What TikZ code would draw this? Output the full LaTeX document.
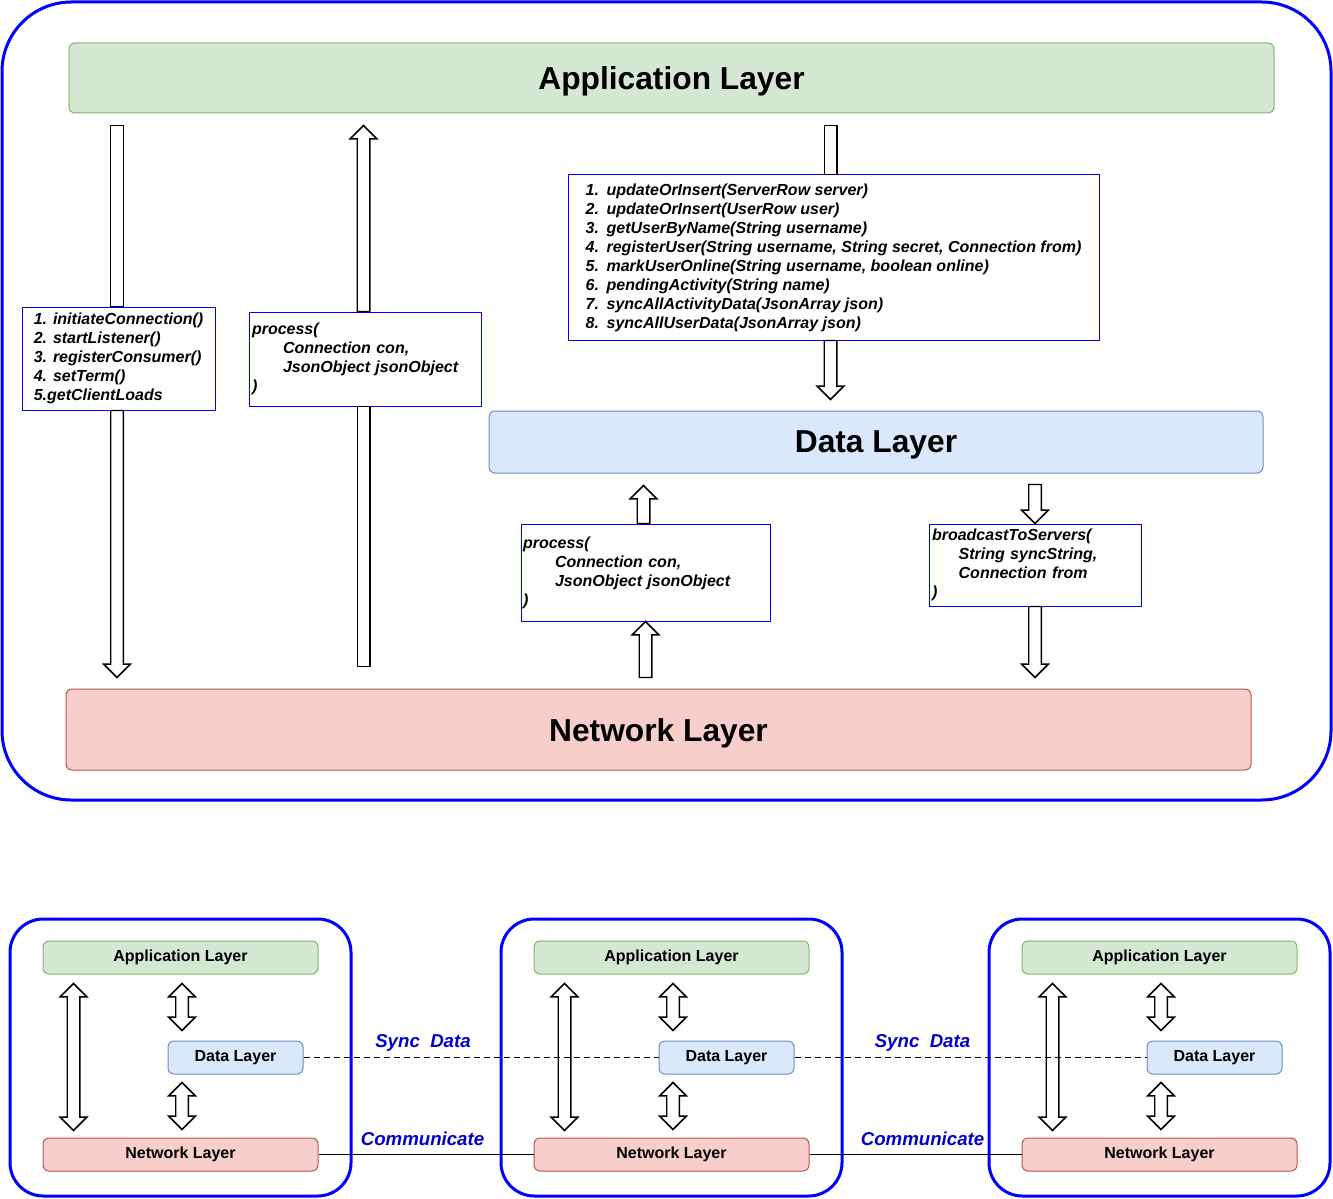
\documentclass[tikz,border=0pt]{standalone}
\usepackage{fontspec}
\setmainfont{Liberation Sans}
\usetikzlibrary{calc}
\definecolor{appfill}{HTML}{D5E8D4}
\definecolor{appline}{HTML}{82B366}
\definecolor{datafill}{HTML}{DAE8FC}
\definecolor{dataline}{HTML}{6C8EBF}
\definecolor{netfill}{HTML}{F8CECC}
\definecolor{netline}{HTML}{B85450}
\definecolor{frameblue}{HTML}{0000FF}
\definecolor{linkblue}{HTML}{0000CC}
\def\pxu{0.75pt}
\def\shafthalf{4.7pt}
\def\headhalf{10pt}
\def\headlen{10pt}
% hollow block arrow, head at the second point
\def\fatarrow[#1]#2#3{%
  \path #2 coordinate (fa-s) #3 coordinate (fa-e);
  \path ($(fa-e)!\headlen!(fa-s)$) coordinate (fa-h);
  \draw[#1] ($(fa-s)!\shafthalf!90:(fa-e)$) -- ($(fa-h)!\shafthalf!90:(fa-e)$)
    -- ($(fa-h)!\headhalf!90:(fa-e)$) -- (fa-e) -- ($(fa-h)!\headhalf!-90:(fa-e)$)
    -- ($(fa-h)!\shafthalf!-90:(fa-e)$) -- ($(fa-s)!\shafthalf!-90:(fa-e)$) -- cycle;}
% hollow block arrow, heads at both ends
\def\dblarrow[#1]#2#3{%
  \path #2 coordinate (fa-s) #3 coordinate (fa-e);
  \path ($(fa-s)!\headlen!(fa-e)$) coordinate (fa-g) ($(fa-e)!\headlen!(fa-s)$) coordinate (fa-h);
  \draw[#1] (fa-s) -- ($(fa-g)!\headhalf!90:(fa-e)$) -- ($(fa-g)!\shafthalf!90:(fa-e)$)
    -- ($(fa-h)!\shafthalf!90:(fa-e)$) -- ($(fa-h)!\headhalf!90:(fa-e)$) -- (fa-e)
    -- ($(fa-h)!\headhalf!-90:(fa-e)$) -- ($(fa-h)!\shafthalf!-90:(fa-e)$)
    -- ($(fa-g)!\shafthalf!-90:(fa-e)$) -- ($(fa-g)!\headhalf!-90:(fa-e)$) -- cycle;}
% shaft without head
\def\shaftbar[#1]#2#3{%
  \path #2 coordinate (fa-s) #3 coordinate (fa-e);
  \draw[#1] ($(fa-s)!\shafthalf!90:(fa-e)$) -- ($(fa-e)!\shafthalf!-90:(fa-s)$)
    -- ($(fa-e)!\shafthalf!90:(fa-s)$) -- ($(fa-s)!\shafthalf!-90:(fa-e)$) -- cycle;}
\tikzset{
  layer/.style={rounded corners=4.5pt, line width=0.75pt, inner sep=0pt},
  applayer/.style={layer, fill=appfill, draw=appline},
  datalayer/.style={layer, fill=datafill, draw=dataline},
  netlayer/.style={layer, fill=netfill, draw=netline},
  bigtitle/.style={font=\fontsize{23.8}{28}\selectfont\bfseries, text depth=0pt},
  smalltitle/.style={font=\fontsize{12}{14}\selectfont\bfseries},
  codebox/.style={draw=frameblue, fill=white, line width=0.75pt, align=left, inner sep=0pt,
    font=\fontsize{12}{14.25}\selectfont\bfseries\itshape},
  blockarrow/.style={draw=black, fill=white, line width=1.1pt, line join=miter},
  frame/.style={draw=frameblue, line width=2.25pt, rounded corners=52pt},
  panel/.style={draw=frameblue, line width=2.25pt, rounded corners=25pt},
  syncline/.style={dash pattern=on 4.5pt off 3pt, line width=1.3pt},
  commline/.style={line width=1.3pt},
  linklabel/.style={text=linkblue, font=\fontsize{14}{16}\selectfont\bfseries\itshape},
}

\begin{document}
\begin{tikzpicture}[x=0.75pt, y=-0.75pt]
		%%%%% START %%%%%
		\useasboundingbox (0,0) rectangle (1333,1198);
		
		\draw[frame] (2,2) rectangle (1331,800);
		
		\node[applayer, bigtitle, minimum width=1205*\pxu, minimum height=70*\pxu] (app) at (671.5,78) {Application Layer};
		\node[datalayer, bigtitle, minimum width=774*\pxu, minimum height=62*\pxu] (data) at (876,442) {Data Layer};
		\node[netlayer, bigtitle, minimum width=1185*\pxu, minimum height=81*\pxu] (net) at (658.5,729.5) {Network Layer};
		
		\node[codebox, minimum width=193*\pxu, minimum height=103*\pxu] (box1) at (118.5,358.5)
			{1. initiateConnection()\\2. startListener()\\3. registerConsumer()\\4. setTerm()\\5.getClientLoads};
		\node[codebox, text width=169.5pt, inner xsep=2.25pt, minimum height=94*\pxu] (box2) at (365,359)
			{process(\\\hspace*{23.25pt}Connection con,\\\hspace*{23.25pt}JsonObject jsonObject\\)};
		\node[codebox, minimum width=531*\pxu, minimum height=165*\pxu] (box3) at (833.5,257.5)
			{\makebox[15.75pt][l]{1.}updateOrInsert(ServerRow server)\\
			 \makebox[15.75pt][l]{2.}updateOrInsert(UserRow user)\\
			 \makebox[15.75pt][l]{3.}getUserByName(String username)\\
			 \makebox[15.75pt][l]{4.}registerUser(String username, String secret, Connection from)\\
			 \makebox[15.75pt][l]{5.}markUserOnline(String username, boolean online)\\
			 \makebox[15.75pt][l]{6.}pendingActivity(String name)\\
			 \makebox[15.75pt][l]{7.}syncAllActivityData(JsonArray json)\\
			 \makebox[15.75pt][l]{8.}syncAllUserData(JsonArray json)};
		\node[codebox, text width=183.75pt, inner xsep=1.5pt, minimum height=97*\pxu] (box4) at (645.5,572.5)
			{process(\\\hspace*{24pt}Connection con,\\\hspace*{24pt}JsonObject jsonObject\\)};
		\node[codebox, text width=154.5pt, inner xsep=2.25pt, minimum height=82*\pxu] (box5) at (1035,565)
			{broadcastToServers(\\\hspace*{20pt}String syncString,\\\hspace*{20pt}Connection from\\)};
		
		\shaftbar[blockarrow]{($(app.south -| box1.north)+(-1.5,12)$)}{($(box1.north)+(-1.5,0)$)};
		\fatarrow[blockarrow]{($(box1.south)+(-1.5,0)$)}{($(net.north -| box1.south)+(-1.5,-11)$)};
		
		\fatarrow[blockarrow]{($(box2.north)+(-1.5,0)$)}{($(app.south -| box2.north)+(-1.5,12)$)};
		\shaftbar[blockarrow]{($(box2.south)+(-1.5,0)$)}{($(net.north -| box2.south)+(-1.5,-22)$)};
		
		\shaftbar[blockarrow]{($(app.south -| box3.north)+(-3,12)$)}{($(box3.north)+(-3,0)$)};
		\fatarrow[blockarrow]{($(box3.south)+(-3,0)$)}{($(data.north -| box3.south)+(-3,-11)$)};
		
		\fatarrow[blockarrow]{($(box4.north)+(-2,0)$)}{($(data.south -| box4.north)+(-2,12)$)};
		\fatarrow[blockarrow]{($(net.north -| box4.south)+(0,-11)$)}{(box4.south)};
		
		\fatarrow[blockarrow]{($(data.south -| box5.north)+(0,11)$)}{(box5.north)};
		\fatarrow[blockarrow]{(box5.south)}{($(net.north -| box5.south)+(0,-11)$)};
		
		% three servers
		\foreach \i/\dx in {1/0,2/491,3/979}{
			\draw[panel] (10+\dx,919) rectangle (351+\dx,1196);
			\node[applayer, smalltitle, minimum width=275*\pxu, minimum height=33*\pxu] (app\i) at (180.5+\dx,957.5) {Application Layer};
			\node[datalayer, smalltitle, minimum width=135*\pxu, minimum height=33*\pxu] (data\i) at (235.5+\dx,1057.5) {Data Layer};
			\node[netlayer, smalltitle, minimum width=275*\pxu, minimum height=33*\pxu] (net\i) at (180.5+\dx,1154.5) {Network Layer};
			\dblarrow[blockarrow]{($(app\i.south west)+(31,9)$)}{($(net\i.north west)+(31,-7)$)};
			\dblarrow[blockarrow]{($(app\i.south)+(1.5,9)$)}{($(app\i.south |- data\i.north)+(1.5,-10)$)};
			\dblarrow[blockarrow]{($(app\i.south |- data\i.south)+(1.5,8)$)}{($(net\i.north)+(1.5,-8)$)};
		}
		
		\draw[syncline] (data1.east) -- (data2.west);
		\draw[syncline] (data2.east) -- (data3.west);
		\draw[commline] (net1.east) -- (net2.west);
		\draw[commline] (net2.east) -- (net3.west);
		
		\node[linklabel] (sync1) at (423,1043) {Sync\ \ Data};
		\node[linklabel] (sync2) at (922.5,1043) {Sync\ \ Data};
		\node[linklabel] (comm1) at (422.5,1139) {Communicate};
		\node[linklabel] (comm2) at (922.5,1139) {Communicate};
		%%%%% END %%%%%
\end{tikzpicture}
\end{document}
